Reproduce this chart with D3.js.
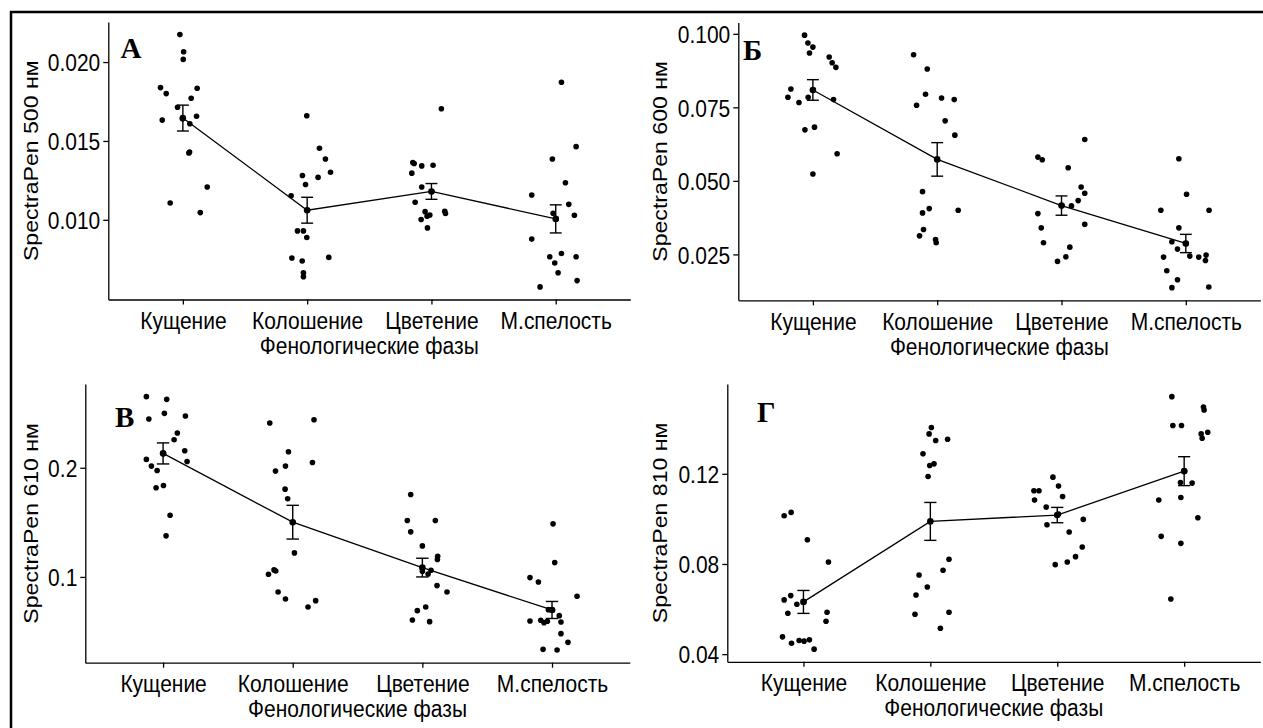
<!DOCTYPE html>
<html>
<head>
<meta charset="utf-8">
<script src="https://cdn.jsdelivr.net/npm/d3@7"></script>
<style>
  html, body { margin: 0; padding: 0; background: #fff; }
  svg { display: block; }
  .lbl { font-family: "Liberation Sans", Arial, sans-serif; fill: #000; }
  .letter { font-family: "Liberation Serif", "Times New Roman", serif; font-weight: bold; fill: #000; }
</style>
</head>
<body>
<div id="chart"></div>
<script>
const phases = ["Кущение", "Колошение", "Цветение", "М.спелость"];

// A: SpectraPen 500 nm
const a500Values = [
  [0.02174, 0.02065, 0.02017, 0.01838, 0.01800, 0.01834, 0.01771, 0.01714, 0.01632, 0.01641, 0.01609, 0.01657, 0.01430, 0.01424, 0.01208, 0.01107, 0.01046],
  [0.01660, 0.01454, 0.01386, 0.01302, 0.01281, 0.01269, 0.01224, 0.01153, 0.01061, 0.00930, 0.00930, 0.00888, 0.00758, 0.00762, 0.00739, 0.00665, 0.00640],
  [0.01704, 0.01363, 0.01357, 0.01342, 0.01346, 0.01296, 0.01208, 0.01180, 0.01111, 0.01052, 0.01054, 0.01040, 0.01031, 0.01023, 0.01002, 0.00949],
  [0.01872, 0.01464, 0.01386, 0.01235, 0.01157, 0.01098, 0.01042, 0.01029, 0.01006, 0.00878, 0.00787, 0.00766, 0.00766, 0.00726, 0.00665, 0.00615, 0.00575]
];
const a500Jitter = [
  [-0.024, 0.006, 0.003, -0.18, -0.134, 0.115, 0.067, -0.043, -0.166, -0.003, 0.056, 0.11, 0.054, 0.048, 0.196, -0.102, 0.14],
  [-0.003, 0.099, 0.147, 0.188, -0.038, 0.088, -0.013, -0.129, 0.0, -0.078, -0.03, -0.003, -0.123, 0.174, -0.04, -0.03, -0.03],
  [0.08, -0.15, -0.139, -0.078, 0.013, -0.158, -0.078, 0.003, -0.131, -0.051, 0.107, 0.113, -0.013, -0.035, -0.083, -0.032],
  [0.046, 0.164, -0.027, 0.078, -0.193, 0.105, -0.021, 0.15, 0.003, -0.193, 0.046, -0.048, 0.164, -0.008, 0.019, 0.172, -0.126]
];
const a500Mean = [0.01645, 0.01061, 0.01180, 0.01006];
const a500Se = [0.00082, 0.00082, 0.00050, 0.00089];
const a500Ticks = [0.010, 0.015, 0.020];

// Б: SpectraPen 600 nm
const b600Values = [
  [0.09955, 0.09684, 0.09548, 0.09345, 0.09209, 0.09017, 0.08859, 0.08125, 0.07842, 0.07842, 0.08091, 0.07763, 0.07662, 0.06826, 0.06735, 0.05922, 0.05233],
  [0.09288, 0.08802, 0.07944, 0.07820, 0.07763, 0.07571, 0.07040, 0.06554, 0.04634, 0.04058, 0.04001, 0.03911, 0.03346, 0.03131, 0.03006, 0.02894],
  [0.06408, 0.05809, 0.05718, 0.05447, 0.04792, 0.04577, 0.04329, 0.04149, 0.04160, 0.03888, 0.03403, 0.03527, 0.02894, 0.02747, 0.02420, 0.02262],
  [0.05752, 0.04544, 0.04001, 0.04001, 0.03403, 0.02929, 0.02871, 0.02680, 0.02442, 0.02408, 0.02408, 0.02476, 0.02295, 0.01945, 0.01640, 0.01369, 0.01392]
];
const b600Jitter = [
  [-0.067, -0.04, 0.0, -0.027, 0.131, 0.155, 0.185, -0.177, -0.201, -0.038, 0.003, 0.166, -0.112, 0.013, -0.064, 0.195, 0.0],
  [-0.19, -0.08, -0.094, 0.035, 0.137, -0.166, 0.064, 0.142, -0.118, -0.064, 0.169, -0.118, -0.11, -0.142, -0.013, -0.008],
  [0.187, -0.19, -0.155, 0.054, 0.158, 0.187, 0.134, 0.08, 0.003, -0.19, -0.163, 0.187, -0.145, 0.067, 0.035, -0.032],
  [-0.056, 0.006, -0.201, 0.187, -0.056, -0.112, 0.003, -0.067, 0.032, -0.179, 0.104, 0.163, 0.158, -0.153, -0.067, -0.112, 0.185]
];
const b600Mean = [0.08091, 0.05730, 0.04160, 0.02871];
const b600Se = [0.00350, 0.00570, 0.00328, 0.00311];
const b600Ticks = [0.025, 0.050, 0.075, 0.100];

// В: SpectraPen 610 nm
const v610Values = [
  [0.26514, 0.26269, 0.24985, 0.24740, 0.24465, 0.23180, 0.22569, 0.21560, 0.21315, 0.20765, 0.20581, 0.20153, 0.19755, 0.18165, 0.18379, 0.15657, 0.13762],
  [0.24404, 0.24098, 0.21468, 0.20489, 0.20153, 0.19694, 0.18043, 0.17156, 0.12202, 0.10642, 0.10550, 0.10245, 0.08624, 0.07982, 0.07829, 0.07248],
  [0.17554, 0.15168, 0.15168, 0.14129, 0.12844, 0.11896, 0.11590, 0.10612, 0.10275, 0.10520, 0.09205, 0.08624, 0.07248, 0.06912, 0.06055, 0.05902],
  [0.14863, 0.11315, 0.09939, 0.09541, 0.08226, 0.07003, 0.06453, 0.05964, 0.06025, 0.05811, 0.05933, 0.05872, 0.04802, 0.04007, 0.03364, 0.03303, 0.06973]
];
const v610Jitter = [
  [-0.129, 0.028, 0.01, 0.172, -0.11, 0.11, 0.085, 0.167, 0.003, -0.129, 0.185, -0.09, -0.046, -0.054, 0.003, 0.054, 0.023],
  [0.164, -0.177, -0.033, 0.152, -0.056, -0.133, -0.059, -0.039, 0.013, -0.144, -0.131, -0.187, -0.113, -0.056, 0.177, 0.118],
  [-0.09, -0.116, 0.10, -0.09, 0.0, 0.118, 0.116, 0.067, 0.044, 0.0, 0.113, 0.19, 0.026, -0.039, -0.077, 0.056],
  [0.008, 0.021, -0.17, -0.105, 0.193, -0.028, 0.056, -0.17, -0.087, -0.062, -0.036, 0.069, 0.069, 0.123, -0.069, 0.039, 0.003]
];
const v610Mean = [0.21315, 0.15015, 0.10856, 0.06973];
const v610Se = [0.00964, 0.01545, 0.00857, 0.00780];
const v610Ticks = [0.1, 0.2];

// Г: SpectraPen 810 nm
const g810Values = [
  [0.10288, 0.10140, 0.09078, 0.08089, 0.06598, 0.06406, 0.06214, 0.05816, 0.05860, 0.05461, 0.04768, 0.04487, 0.04605, 0.04576, 0.04635, 0.04221, 0.06317],
  [0.14052, 0.13771, 0.13476, 0.13535, 0.12886, 0.12369, 0.12443, 0.11882, 0.08207, 0.07720, 0.07513, 0.06982, 0.06627, 0.05771, 0.05860, 0.05151],
  [0.11852, 0.11247, 0.11247, 0.11454, 0.10834, 0.10996, 0.10524, 0.10214, 0.09978, 0.09742, 0.09417, 0.08753, 0.08325, 0.08089, 0.07970],
  [0.15424, 0.14967, 0.14834, 0.14140, 0.14140, 0.13845, 0.13771, 0.13579, 0.11616, 0.11587, 0.10834, 0.10952, 0.10052, 0.09225, 0.08915, 0.06450, 0.12118]
];
const g810Jitter = [
  [-0.097, -0.152, 0.031, 0.197, -0.1, -0.152, -0.052, -0.123, 0.186, 0.178, -0.165, -0.094, -0.034, 0.005, 0.047, 0.084, 0.003],
  [0.008, -0.01, 0.042, 0.136, -0.058, -0.005, 0.029, -0.018, 0.147, 0.1, -0.089, -0.024, -0.113, -0.121, 0.147, 0.079],
  [-0.034, -0.184, -0.144, 0.01, -0.179, 0.042, -0.087, 0.01, 0.205, -0.081, 0.094, 0.197, 0.144, 0.079, -0.016],
  [-0.097, 0.152, 0.157, -0.089, -0.021, 0.186, 0.134, 0.142, -0.029, 0.063, -0.2, -0.026, 0.108, -0.181, -0.026, -0.105, 0.003]
];
const g810Mean = [0.06317, 0.09889, 0.10170, 0.12118];
const g810Se = [0.00509, 0.00841, 0.00340, 0.00642];
const g810Ticks = [0.04, 0.08, 0.12];

const width = 1263;
const height = 728;
const stretch = 1.1; // text in the picture is a bit taller than wide

const panels = [
  { values: a500Values, jitter: a500Jitter, mean: a500Mean, se: a500Se, ticks: a500Ticks, fmt: ".3f",
    title: "SpectraPen 500 нм", letter: "A",
    left: 108.3, right: 630.3, top: 22, bottom: 299.5, titleX: 37.5, letterX: 120.5, letterY: 57.5 },
  { values: b600Values, jitter: b600Jitter, mean: b600Mean, se: b600Se, ticks: b600Ticks, fmt: ".3f",
    title: "SpectraPen 600 нм", letter: "Б",
    left: 738.3, right: 1260.4, top: 22.5, bottom: 300.3, titleX: 667, letterX: 743, letterY: 59.5 },
  { values: v610Values, jitter: v610Jitter, mean: v610Mean, se: v610Se, ticks: v610Ticks, fmt: ".1f",
    title: "SpectraPen 610 нм", letter: "В",
    left: 85.3, right: 629.8, top: 384, bottom: 662.7, titleX: 37.5, letterX: 115, letterY: 427 },
  { values: g810Values, jitter: g810Jitter, mean: g810Mean, se: g810Se, ticks: g810Ticks, fmt: ".2f",
    title: "SpectraPen 810 нм", letter: "Г",
    left: 727.3, right: 1260.3, top: 384, bottom: 661.8, titleX: 667, letterX: 757, letterY: 422 }
];

const svg = d3.select("#chart")
  .append("svg")
  .attr("width", width)
  .attr("height", height);

// outer frame
svg.append("rect")
  .attr("x", 11)
  .attr("y", 12)
  .attr("width", width + 20)
  .attr("height", height + 20)
  .attr("fill", "none")
  .attr("stroke", "#000")
  .attr("stroke-width", 2.5);

panels.forEach(p => {
  const g = svg.append("g");

  const x = d3.scaleLinear()
    .domain([0.4, 4.6])
    .range([p.left, p.right]);

  const all = p.values.flat();
  const ext = d3.extent(all);
  const pad = (ext[1] - ext[0]) * 0.05;
  const y = d3.scaleLinear()
    .domain([ext[0] - pad, ext[1] + pad])
    .range([p.bottom, p.top]);

  // axes
  const xAxis = g.append("g")
    .attr("transform", `translate(0,${p.bottom})`)
    .call(d3.axisBottom(x)
      .tickValues([1, 2, 3, 4])
      .tickFormat(i => phases[i - 1])
      .tickSize(5)
      .tickSizeOuter(0)
      .tickPadding(7));

  const yAxis = g.append("g")
    .attr("transform", `translate(${p.left},0)`)
    .call(d3.axisLeft(y)
      .tickValues(p.ticks)
      .tickFormat(d3.format(p.fmt))
      .tickSize(5)
      .tickSizeOuter(0)
      .tickPadding(3));

  [xAxis, yAxis].forEach(ax => {
    ax.attr("font-size", null).attr("font-family", null);
    ax.select(".domain").attr("stroke", "#000").attr("stroke-width", 1.3);
    ax.selectAll(".tick line").attr("stroke", "#000").attr("stroke-width", 1.3);
    ax.selectAll(".tick text")
      .attr("class", "lbl")
      .style("font-size", "21px")
      .attr("transform", `scale(1,${stretch})`);
  });
  yAxis.selectAll(".tick text").attr("dy", "0.38em");

  // axis titles
  g.append("text")
    .attr("class", "lbl")
    .attr("transform", `translate(${(p.left + p.right) / 2},${p.bottom + 54.5}) scale(1,${stretch})`)
    .attr("text-anchor", "middle")
    .style("font-size", "21px")
    .text("Фенологические фазы");

  g.append("text")
    .attr("class", "lbl")
    .attr("transform", `translate(${p.titleX},${(p.top + p.bottom) / 2}) rotate(-90) scale(${stretch},1)`)
    .attr("text-anchor", "middle")
    .style("font-size", "21px")
    .text(p.title);

  // panel letter
  g.append("text")
    .attr("class", "letter")
    .attr("x", p.letterX)
    .attr("y", p.letterY)
    .style("font-size", "29px")
    .text(p.letter);

  // jittered points
  const pts = [];
  p.values.forEach((arr, i) => {
    arr.forEach((v, j) => pts.push({ pos: i + 1 + p.jitter[i][j], v: v }));
  });

  g.selectAll("circle.pt")
    .data(pts)
    .enter()
    .append("circle")
    .attr("class", "pt")
    .attr("cx", d => x(d.pos))
    .attr("cy", d => y(d.v))
    .attr("r", 2.8)
    .attr("fill", "#000");

  // mean line
  const line = d3.line()
    .x((d, i) => x(i + 1))
    .y(d => y(d));

  g.append("path")
    .datum(p.mean)
    .attr("d", line)
    .attr("fill", "none")
    .attr("stroke", "#000")
    .attr("stroke-width", 1.3);

  // error bars
  const cap = 0.048;
  const eb = g.selectAll("g.eb")
    .data(p.mean)
    .enter()
    .append("g")
    .attr("class", "eb")
    .attr("stroke", "#000")
    .attr("stroke-width", 1.4);

  eb.append("line")
    .attr("x1", (d, i) => x(i + 1))
    .attr("x2", (d, i) => x(i + 1))
    .attr("y1", (d, i) => y(d - p.se[i]))
    .attr("y2", (d, i) => y(d + p.se[i]));

  eb.append("line")
    .attr("x1", (d, i) => x(i + 1 - cap))
    .attr("x2", (d, i) => x(i + 1 + cap))
    .attr("y1", (d, i) => y(d + p.se[i]))
    .attr("y2", (d, i) => y(d + p.se[i]));

  eb.append("line")
    .attr("x1", (d, i) => x(i + 1 - cap))
    .attr("x2", (d, i) => x(i + 1 + cap))
    .attr("y1", (d, i) => y(d - p.se[i]))
    .attr("y2", (d, i) => y(d - p.se[i]));

  g.selectAll("circle.mean")
    .data(p.mean)
    .enter()
    .append("circle")
    .attr("class", "mean")
    .attr("cx", (d, i) => x(i + 1))
    .attr("cy", d => y(d))
    .attr("r", 3.3)
    .attr("fill", "#000");
});
</script>
</body>
</html>
